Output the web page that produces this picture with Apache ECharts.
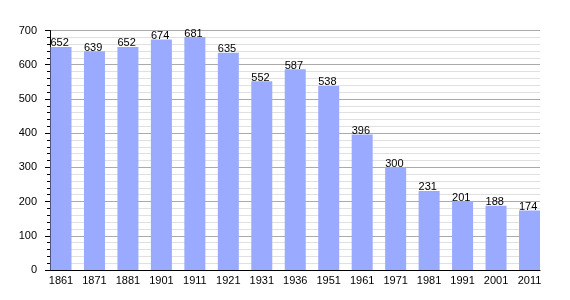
<!DOCTYPE html>
<html><head><meta charset="utf-8">
<script src="https://cdn.jsdelivr.net/npm/echarts@6/dist/echarts.min.js"></script>
<style>html,body{margin:0;padding:0;background:#fff}#c{width:570px;height:300px}</style>
</head><body><div id="c"></div>
<script>
const categories = ['1861','1871','1881','1901','1911','1921','1931','1936','1951','1961','1971','1981','1991','2001','2011'];
const values = [652,639,652,674,681,635,552,587,538,396,300,231,201,188,174];
const yTicks = [0,100,200,300,400,500,600,700];

const font = 'Liberation Sans, Arial, sans-serif';
const chart = echarts.init(document.getElementById('c'), null, {renderer:'canvas'});
chart.setOption({
  animation:false,
  backgroundColor:'#fff',
  grid:[
    {left:50, right:30, top:30.5, bottom:30},
    {left:61, right:40.5, top:30.5, bottom:30}
  ],
  xAxis:[
    {gridIndex:0, type:'value', min:0, max:1, axisLine:{show:true, lineStyle:{color:'#000', width:1}},
     axisTick:{show:false}, axisLabel:{show:false}, splitLine:{show:false}},
    {gridIndex:1, type:'category', data:categories, boundaryGap:false,
     axisLine:{show:false}, axisTick:{show:false},
     axisLabel:{color:'#000', fontSize:11, fontFamily:font, margin:5, interval:0}}
  ],
  yAxis:[
    {gridIndex:0, type:'value', min:yTicks[0], max:yTicks[yTicks.length-1], interval:100,
     axisLine:{show:true, lineStyle:{color:'#000', width:1}},
     axisTick:{show:true, length:5, lineStyle:{color:'#000'}},
     minorTick:{show:true, splitNumber:5, length:3, lineStyle:{color:'#000'}},
     splitLine:{show:true, lineStyle:{color:'#aaaaaa', width:1}},
     minorSplitLine:{show:true, lineStyle:{color:'#e0e0e0', width:1}},
     axisLabel:{color:'#000', fontSize:11, fontFamily:font, margin:13}},
    {gridIndex:1, type:'value', min:0, max:700, show:false}
  ],
  series:[{
    type:'bar', xAxisIndex:1, yAxisIndex:1, data:values, barWidth:21,
    itemStyle:{color:'#99aaff'},
    label:{show:true, position:'top', distance:-2, align:'left', offset:[-10.5,0],
      color:'#000', fontSize:11, fontFamily:font}
  }]
});
</script></body></html>
